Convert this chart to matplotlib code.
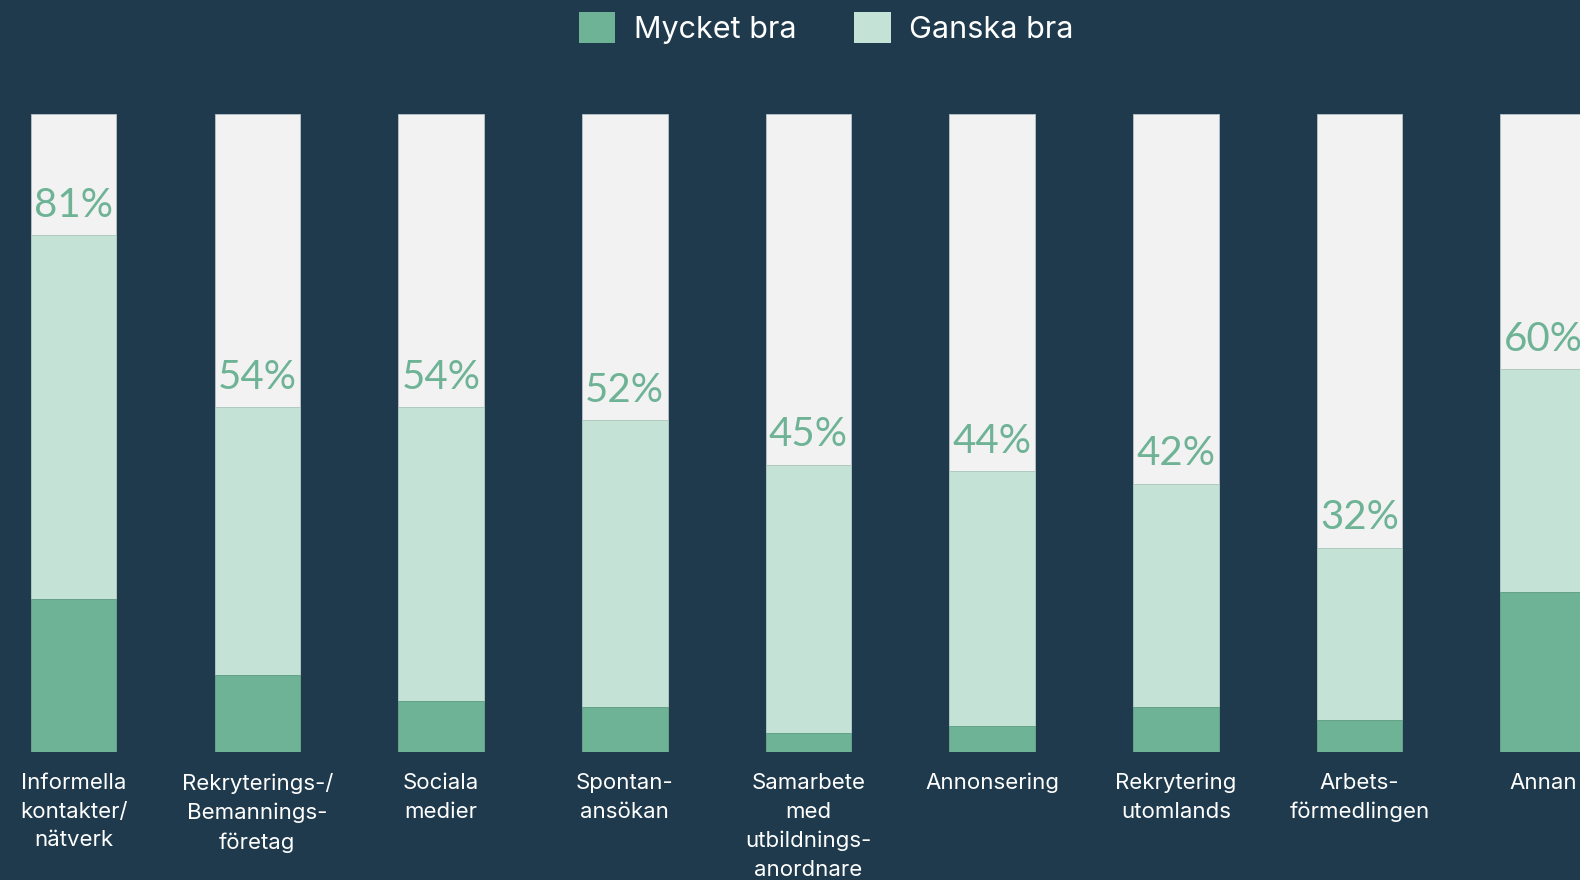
import numpy as np
import matplotlib
matplotlib.use("Agg")
import matplotlib.pyplot as plt
from matplotlib.patches import Patch

# data
categories = ["Informella\nkontakter/\nnätverk", "Rekryterings-/\nBemannings-\nföretag",
              "Sociala\nmedier", "Spontan-\nansökan", "Samarbete\nmed\nutbildnings-\nanordnare",
              "Annonsering", "Rekrytering\nutomlands", "Arbets-\nförmedlingen", "Annan"]
mycket_bra = [24, 12, 8, 7, 3, 4, 7, 5, 25]
ganska_bra = [57, 42, 46, 45, 42, 40, 35, 27, 35]
totals = [81, 54, 54, 52, 45, 44, 42, 32, 60]

bg = "#1e3a4c"
dark_green = "#6fb396"
light_green = "#c5e2d7"
rest_grey = "#f2f2f2"

plt.rcParams['font.family'] = ['Inter', 'DejaVu Sans']

fig = plt.figure(figsize=(15.8, 8.8), dpi=100, facecolor=bg)
ax = fig.add_axes([0, 0.1455, 1, 0.725])
ax.set_facecolor(bg)

x = np.arange(len(categories))
w = 0.466
mb = np.array(mycket_bra)
gb = np.array(ganska_bra)
ax.bar(x, 100, width=w, color=rest_grey, edgecolor="#b8c4c8", linewidth=0.6, zorder=1)
ax.bar(x, gb, width=w, bottom=mb, color=light_green, edgecolor="#a9c4ba", linewidth=0.6, zorder=2)
ax.bar(x, mb, width=w, color=dark_green, edgecolor="#5f9c84", linewidth=0.6, zorder=3)

for xi, t in zip(x, totals):
    ax.text(xi, t + 2.9, f"{t}%", ha="center", va="baseline", color=dark_green,
            fontsize=29, family=["Lato", "DejaVu Sans"], zorder=4)

ax.set_xlim(-0.4007, 8.2)
ax.set_ylim(0, 100)
ax.set_xticks(x)
ax.set_xticklabels(categories, color="white", fontsize=16, linespacing=1.55)
ax.tick_params(axis="x", length=0, pad=15)
ax.set_yticks([])
for s in ax.spines.values():
    s.set_visible(False)

handles = [Patch(facecolor=dark_green, label="Mycket bra"),
           Patch(facecolor=light_green, label="Ganska bra")]
fig.legend(handles=handles, loc="upper center", bbox_to_anchor=(0.523, 1.018), ncol=2,
           frameon=False, fontsize=22, labelcolor="white", handlelength=1.2,
           handleheight=1.2, columnspacing=1.9, handletextpad=0.6)

fig.savefig("out.png", dpi=100, facecolor=bg)
